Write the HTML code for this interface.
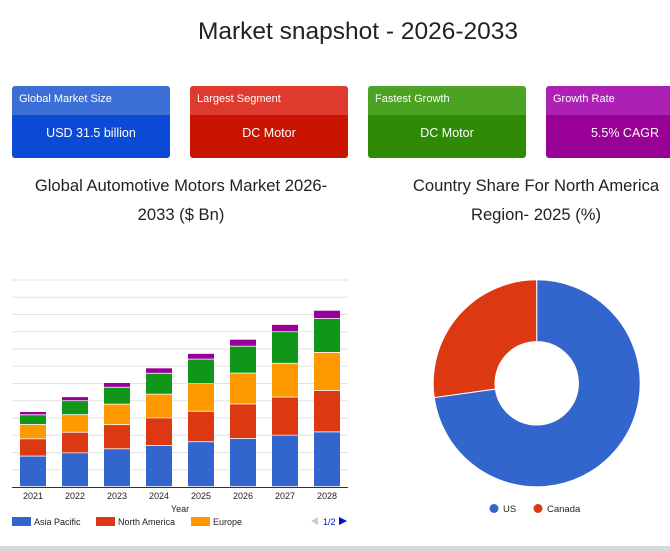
<!DOCTYPE html>
<html><head><meta charset="utf-8">
<style>
html,body{margin:0;padding:0;width:670px;height:551px;overflow:hidden;background:#fff;font-family:"Liberation Sans",sans-serif;}
.title{position:absolute;left:0;width:716px;top:18px;text-align:center;font-size:24.5px;color:#222;}
.card{position:absolute;top:86px;width:158px;height:72px;border-radius:3px;overflow:hidden;color:#fff;}
.card .h{height:29px;font-size:11px;line-height:26px;padding-left:7px;}
.card .b{height:43px;font-size:12.5px;line-height:36px;text-align:center;}
.sub{position:absolute;font-size:16.6px;color:#222;text-align:center;line-height:29px;white-space:nowrap;}
.bottom{position:absolute;left:0;top:546px;width:670px;height:5px;background:#d8d8d8;}
</style></head><body>
<div class="title">Market snapshot - 2026-2033</div>
<div class="card" style="left:12px"><div class="h" style="background:#3b6fd6">Global Market Size</div><div class="b" style="background:#0a4ad6">USD 31.5 billion</div></div>
<div class="card" style="left:190px"><div class="h" style="background:#de3b2e">Largest Segment</div><div class="b" style="background:#c81400">DC Motor</div></div>
<div class="card" style="left:368px"><div class="h" style="background:#4ca323">Fastest Growth</div><div class="b" style="background:#2f8a05">DC Motor</div></div>
<div class="card" style="left:546px"><div class="h" style="background:#ac21b4">Growth Rate</div><div class="b" style="background:#980096">5.5% CAGR</div></div>
<div class="sub" style="left:14px;width:334px;top:171px">Global Automotive Motors Market 2026-<br>2033 ($ Bn)</div>
<div class="sub" style="left:400px;width:272px;top:171px">Country Share For North America<br>Region- 2025 (%)</div>
<svg id="bar" width="360" height="281" style="position:absolute;left:0;top:270px"></svg>
<svg id="donut" width="270" height="275" style="position:absolute;left:400px;top:270px"></svg>
<div class="bottom"></div>
<script>
const years=["2021","2022","2023","2024","2025","2026","2027","2028"];
const asiaPacific=[3.54,3.92,4.38,4.76,5.2,5.58,5.96,6.34];
const northAmerica=[2.0,2.38,2.8,3.2,3.54,4.0,4.42,4.8];
const europe=[1.66,2.04,2.38,2.76,3.2,3.58,3.92,4.42];
const other1=[1.12,1.62,1.96,2.42,2.84,3.12,3.66,3.92];
const other2=[0.38,0.46,0.54,0.62,0.66,0.8,0.84,0.96];
const yMax=24, gridCount=12;
const usShare=72.8, canadaShare=27.2;
const NS="http://www.w3.org/2000/svg";
function mk(p,t,a){const e=document.createElementNS(NS,t);for(const k in a)e.setAttribute(k,a[k]);p.appendChild(e);return e;}
const svg=document.getElementById('bar');
const x0=12,x1=348,yBase=217,yTop=10;
const yS=v=>yBase-(v/yMax)*(yBase-yTop);
const band=(x1-x0)/years.length;
const xC=i=>x0+band*(i+0.5);
for(let g=1;g<=gridCount;g++){const l=mk(svg,'line',{x1:x0,x2:x1,y1:yS(g*yMax/gridCount),y2:yS(g*yMax/gridCount),stroke:'#e2e2e2','stroke-width':1});

}
const series=[asiaPacific,northAmerica,europe,other1,other2];
const colors=['#3366cc','#dc3912','#ff9900','#109618','#990099'];
const names=['asia-pacific','north-america','europe','other-region-1','other-region-2'];
years.forEach((yr,i)=>{let cum=0;series.forEach((s,k)=>{const y1=yS(cum+s[i]),y0=yS(cum);
const r=mk(svg,'rect',{x:xC(i)-13,y:y1,width:26,height:Math.max(0,y0-y1-0.8),fill:colors[k]});


cum+=s[i];});
const t=mk(svg,'text',{x:xC(i),y:229,'font-size':9,'text-anchor':'middle',fill:'#222'});t.textContent=yr;

});
mk(svg,'line',{x1:x0,x2:x1,y1:yBase+0.5,y2:yBase+0.5,stroke:'#333','stroke-width':1});
const xt=mk(svg,'text',{x:180,y:242,'font-size':9,'text-anchor':'middle',fill:'#222'});xt.textContent='Year';


const leg=[['Asia Pacific',12],['North America',96],['Europe',191]];
leg.forEach((l,k)=>{const r=mk(svg,'rect',{x:l[1],y:247,width:19,height:9,fill:colors[k]});


const t=mk(svg,'text',{x:l[1]+22,y:255,'font-size':9,fill:'#222'});t.textContent=l[0];

});
const pl=mk(svg,'polygon',{points:'311,251 318,247 318,255',fill:'#ccc'});


const pg=mk(svg,'text',{x:323,y:255,'font-size':9,fill:'#0011cc'});pg.textContent='1/2';


const pn=mk(svg,'polygon',{points:'339,247 347,251 339,255',fill:'#0011cc'});


const d=document.getElementById('donut');
const cx=136.7,cy=113.3,R=103.5,r0=41.7;
function arc(a0,a1){const p=(a,rr)=>[cx+rr*Math.sin(a),cy-rr*Math.cos(a)];const lg=(a1-a0)>Math.PI?1:0;
const [ax,ay]=p(a0,R),[bx,by]=p(a1,R),[cx2,cy2]=p(a1,r0),[dx,dy]=p(a0,r0);
return `M${ax},${ay}A${R},${R} 0 ${lg} 1 ${bx},${by}L${cx2},${cy2}A${r0},${r0} 0 ${lg} 0 ${dx},${dy}Z`;}
const tot=usShare+canadaShare;let a=0;
[[usShare,'#3366cc','slice-us'],[canadaShare,'#dc3912','slice-canada']].forEach(s=>{const a1=a+s[0]/tot*2*Math.PI;
const p=mk(d,'path',{d:arc(a,a1),fill:s[1],stroke:'#fff','stroke-width':1});


a=a1;});
[['US',94,'#3366cc'],['Canada',138,'#dc3912']].forEach(l=>{const c=mk(d,'circle',{cx:l[1],cy:238.5,r:4.5,fill:l[2]});


const t=mk(d,'text',{x:l[1]+9,y:242,'font-size':9.5,fill:'#222'});t.textContent=l[0];

});
</script>
</body></html>
